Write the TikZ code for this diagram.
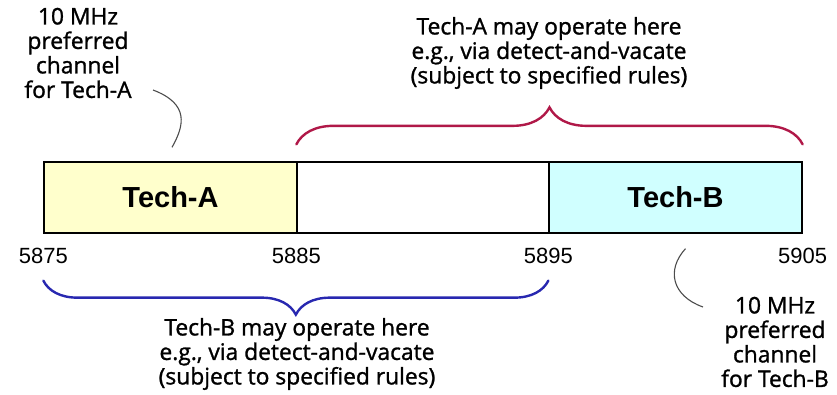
\documentclass[tikz,border=0pt]{standalone}
\usepackage{fontspec}
\setmainfont{Liberation Sans}
\newfontfamily\handfont[FakeBold=1.2]{Open Sans}
\usetikzlibrary{decorations.pathreplacing}
\definecolor{chAfill}{RGB}{255,255,204}
\definecolor{chBfill}{RGB}{208,255,255}
\definecolor{braceA}{RGB}{176,24,72}
\definecolor{braceB}{RGB}{40,40,176}

\begin{document}
\begin{tikzpicture}[x=1pt, y=1pt]
\tikzset{band/.style={draw, line width=1.3pt, minimum width=253pt, minimum height=71pt, inner sep=0pt, font=\fontsize{29}{32}\selectfont\bfseries}}
\tikzset{freq/.style={below=11pt, font=\fontsize{22}{24}\selectfont}}
\tikzset{note/.style={align=center, inner sep=0pt, font=\handfont\fontsize{22.8}{24.5}\selectfont}}
\tikzset{bracket/.style={decorate, line width=2.4pt, line cap=round, decoration={brace, amplitude=#1}}}
\tikzset{leader/.style={draw=black!70, line width=1.1pt}}
\useasboundingbox (0,0) rectangle (837,394);
\node[band, fill=chAfill] (chA) at (170.5,196.5) {Tech-A};
\node[band, minimum width=252pt] (gap) at (423,196.5) {};
\node[band, fill=chBfill] (chB) at (675.5,196.5) {Tech-B};
\node[freq] (f5875) at (chA.south west) {5875};
\node[freq] (f5885) at (gap.south west) {5885};
\node[freq] (f5895) at (chB.south west) {5895};
\node[freq] (f5905) at (chB.south east) {5905};
\draw[bracket=37pt, braceA] ([yshift=17pt]gap.north west) -- ([yshift=17pt]chB.north east);
\draw[bracket=34pt, braceB] ([yshift=-47pt]chB.south west) -- ([yshift=-47pt]chA.south west);
\node[note] (useA) at (549,341) {Tech-A may operate here\\e.g., via detect-and-vacate\\(subject to specified rules)};
\node[note] (useB) at (297,40) {Tech-B may operate here\\e.g., via detect-and-vacate\\(subject to specified rules)};
\node[note] (prefA) at (78,341) {10 MHz\\preferred\\channel\\for Tech-A};
\node[note] (prefB) at (775,52) {10 MHz\\preferred\\channel\\for Tech-B};
\coordinate (tailA) at (153,304);
\coordinate (tailB) at (703,87);
\draw[leader] (tailA) .. controls (190,290) and (184,268) .. ([xshift=1.5pt,yshift=14pt]chA.north);
\draw[leader] ([xshift=10pt,yshift=-15pt]chB.south) .. controls (666,124) and (672,98) .. (tailB);
\end{tikzpicture}
\end{document}
